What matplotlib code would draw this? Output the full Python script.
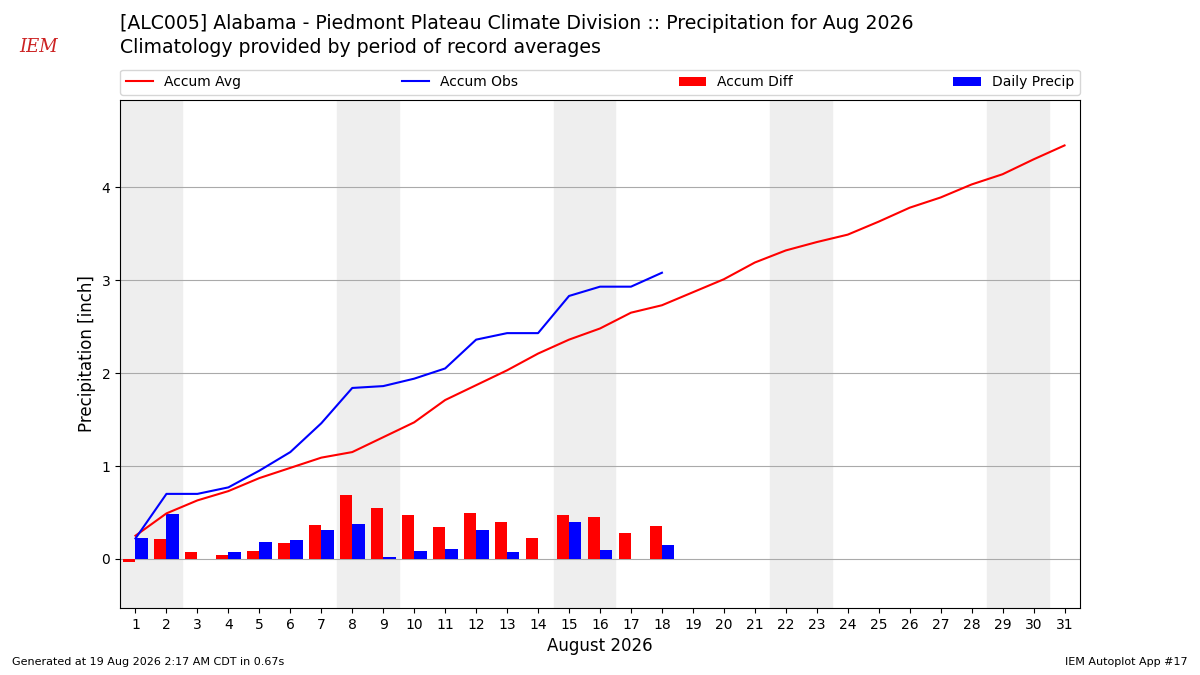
import matplotlib
matplotlib.use("Agg")
import matplotlib.pyplot as plt
import numpy as np

days_all = list(range(1, 32))
accum_avg = [0.25,0.49,0.63,0.73,0.87,0.98,1.09,1.15,1.31,1.47,1.71,1.87,2.03,2.21,2.36,2.48,2.65,2.73,2.87,3.01,3.19,3.32,3.41,3.49,3.63,3.78,3.89,4.03,4.14,4.30,4.45]
days_obs = list(range(1, 19))
accum_obs = [0.22,0.70,0.70,0.77,0.95,1.15,1.46,1.84,1.86,1.94,2.05,2.36,2.43,2.43,2.83,2.93,2.93,3.08]
daily = [0.22,0.48,0,0.07,0.18,0.20,0.31,0.38,0.02,0.08,0.11,0.31,0.07,0,0.40,0.10,0,0.15]
diff = [-0.03,0.21,0.07,0.04,0.08,0.17,0.37,0.69,0.55,0.47,0.34,0.49,0.40,0.22,0.47,0.45,0.28,0.35]
weekends = [(0.5,2.5),(7.5,9.5),(14.5,16.5),(21.5,23.5),(28.5,30.5)]

fig = plt.figure(figsize=(12, 6.75), dpi=100)
ax = fig.add_axes([0.1, 0.099, 0.8, 0.753])
for a, b in weekends:
    ax.axvspan(a, b, color="#eeeeee", zorder=0)
ax.plot(days_all, accum_avg, color="red", label="Accum Avg", zorder=3)
ax.plot(days_obs, accum_obs, color="blue", label="Accum Obs", zorder=3)
ax.bar(np.array(days_obs) - 0.2, diff, width=0.4, color="red", label="Accum Diff", zorder=2)
ax.bar(np.array(days_obs) + 0.2, daily, width=0.4, color="blue", label="Daily Precip", zorder=2)
ax.set_xlim(0.5, 31.5)
ax.set_ylim(-0.53, 4.94)
ax.set_xticks(days_all)
ax.set_yticks([0, 1, 2, 3, 4])
ax.grid(axis="y", color="#aaaaaa", zorder=1)
ax.set_axisbelow(True)
ax.set_ylabel("Precipitation [inch]", fontsize=12)
ax.set_xlabel("August 2026", fontsize=12)
ax.tick_params(labelsize=10)
ax.legend(loc="lower left", bbox_to_anchor=(0, 1.01, 1, 0.05), mode="expand", ncol=4, fontsize=10, borderaxespad=0)
fig.text(0.1, 0.965, "[ALC005] Alabama - Piedmont Plateau Climate Division :: Precipitation for Aug 2026", fontsize=13.6, va="center")
fig.text(0.1, 0.929, "Climatology provided by period of record averages", fontsize=13.6, va="center")
fig.text(0.01, 0.015, "Generated at 19 Aug 2026 2:17 AM CDT in 0.67s", fontsize=8)
fig.text(0.99, 0.015, "IEM Autoplot App #17", fontsize=8, ha="right")
fig.text(0.032, 0.93, "IEM", fontsize=13, color="#cc2222", style="italic", ha="center", va="center", family="serif")
fig.savefig("out.png")
